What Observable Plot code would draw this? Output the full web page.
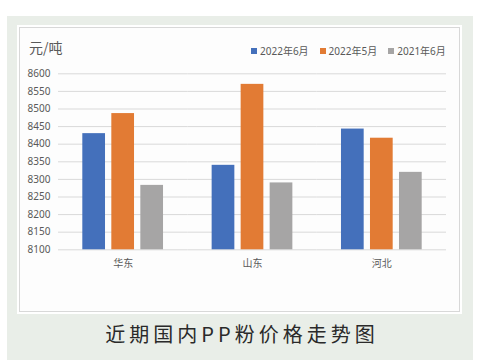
<!DOCTYPE html>
<html>
<head>
<meta charset="utf-8">
<script src="https://cdn.jsdelivr.net/npm/d3@7"></script>
<script src="https://cdn.jsdelivr.net/npm/@observablehq/plot@0.6"></script>
<style>
  html, body { margin: 0; padding: 0; background: #ffffff; width: 484px; height: 360px; overflow: hidden; }
  body { font-family: "Noto Sans", "Noto Sans CJK SC", sans-serif; position: relative; }
  .outer { position: absolute; left: 7px; top: 16px; width: 466px; height: 344px; background: #e9eee8; }
  .inner { position: absolute; left: 19px; top: 27px; width: 439px; height: 283px; background: #fdfdfd; border: 1px solid #d8d8d8; outline: 2px solid #ffffff; }
  .unit { position: absolute; left: 29px; top: 37px; font-size: 14px; color: #595959; font-family: "Noto Sans CJK SC", sans-serif; }
  .legend { position: absolute; top: 43px; left: 251px; font-size: 10px; color: #595959; font-family: "Noto Sans", "Noto Sans CJK SC", sans-serif; white-space: nowrap; display: flex; }
  .legend .item { display: flex; align-items: center; margin-right: 11px; }
  .legend .sw { width: 6px; height: 6px; margin-right: 3px; }
  .caption { position: absolute; left: 0; width: 484px; top: 319px; text-align: center; font-size: 20px; letter-spacing: 4px; color: #2a2a2a; font-family: "Noto Sans CJK SC", sans-serif; font-weight: 400; }
  #chart { position: absolute; left: 0; top: 60px; }
  #chart svg g[aria-label="fx-axis"] text { font-size: 11px; }
</style>
</head>
<body>
<div class="outer"></div>
<div class="inner"></div>
<div class="unit">元/吨</div>
<div class="legend" id="legend"></div>
<div id="chart"></div>
<div class="caption">近期国内PP粉价格走势图</div>
<script>
const regions = ["华东", "山东", "河北"];
const seriesNames = ["2022年6月", "2022年5月", "2021年6月"];
const jun2022 = [8430, 8340, 8443];
const may2022 = [8487, 8570, 8417];
const jun2021 = [8283, 8290, 8320];
const colors = ["#4470bb", "#e27b34", "#a6a5a5"];
const yTicks = [8100, 8150, 8200, 8250, 8300, 8350, 8400, 8450, 8500, 8550, 8600];

const seriesValues = [jun2022, may2022, jun2021];
const table = [];
regions.forEach((r, i) => {
  seriesNames.forEach((s, j) => {
    table.push({region: r, series: s, value: seriesValues[j][i]});
  });
});

const legend = document.getElementById("legend");
seriesNames.forEach((s, j) => {
  const item = document.createElement("div");
  item.className = "item";
  const sw = document.createElement("span");
  sw.className = "sw";
  sw.style.background = colors[j];
  const t = document.createElement("span");
  t.textContent = s;
  item.appendChild(sw);
  item.appendChild(t);
  legend.appendChild(item);
});

const chart = Plot.plot({
  width: 470,
  height: 220,
  marginLeft: 58,
  marginRight: 24,
  marginTop: 13.3,
  marginBottom: 30.7,
  style: {fontFamily: "'Noto Sans', 'Noto Sans CJK SC', sans-serif", fontSize: "10px", color: "#595959", background: "transparent"},
  facet: {data: table, x: "region"},
  fx: {domain: regions, padding: 0, round: false, label: null, tickSize: 0, tickPadding: 10, axis: "bottom"},
  x: {domain: seriesNames, axis: null, round: false, paddingInner: 0.217, paddingOuter: 0.838},
  y: {domain: [8100, 8600], ticks: yTicks, tickSize: 0, tickPadding: 8, label: null, tickFormat: d => String(d)},
  color: {domain: seriesNames, range: colors},
  marks: [
    Plot.ruleY(yTicks, {stroke: "#d9d9d9", strokeWidth: 1}),
    Plot.barY(table, {x: "series", y1: 8100, y2: "value", fill: "series"})
  ]
});
document.getElementById("chart").appendChild(chart);
</script>
</body>
</html>
